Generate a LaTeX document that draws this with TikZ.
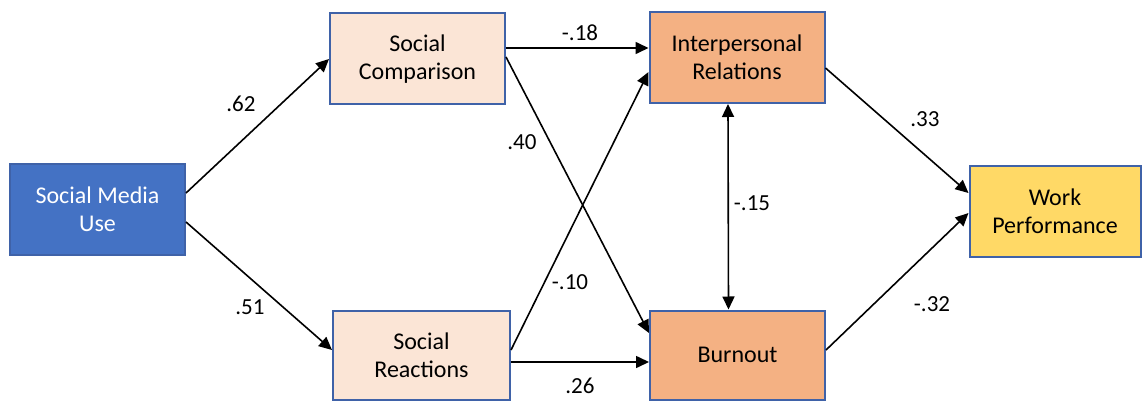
\documentclass[tikz,border=0pt]{standalone}
\usepackage{fontspec}
\setmainfont{Carlito}
\usetikzlibrary{arrows.meta}
\definecolor{boxborder}{HTML}{3F62A8}
\definecolor{blueFill}{HTML}{4472C4}
\definecolor{peachFill}{HTML}{FBE5D6}
\definecolor{orangeFill}{HTML}{F4B183}
\definecolor{yellowFill}{HTML}{FFD966}
\begin{document}
\begin{tikzpicture}[x=1pt,y=-1pt,
  varbox/.style={draw=boxborder, line width=2pt, minimum width=175pt, minimum height=91pt,
    align=center, inner sep=2pt, font=\fontsize{24}{28}\selectfont},
  path/.style={line width=1.6pt, -{Triangle[length=13pt,width=12pt]}},
  twoway/.style={line width=1.6pt, {Triangle[length=13pt,width=12pt]}-{Triangle[length=13pt,width=12pt]}},
  coef/.style={font=\fontsize{23}{26}\selectfont, inner sep=1pt}]
\useasboundingbox (0,0) rectangle (1143,401);

% variables
\node[varbox, fill=blueFill, text=white] (smu) at (97.5,209) {Social Media\\Use};
\node[varbox, fill=peachFill] (sc) at (417.5,59) {Social\\Comparison};
\node[varbox, fill=peachFill, minimum width=177pt, minimum height=89pt] (sr) at (421.5,355) {Social\\Reactions};
\node[varbox, fill=orangeFill] (ir) at (737,57.5) {Interpersonal\\Relations};
\node[varbox, fill=orangeFill, minimum height=89pt] (bo) at (737.5,355) {Burnout};
\node[varbox, fill=yellowFill, minimum width=171pt] (wp) at (1055,211) {Work\\Performance};

% structural paths
\draw[path] ([yshift=16pt]smu.east) -- (sc.west);
\draw[path] ([yshift=-13pt]smu.east) -- ([yshift=5pt]sr.west);
\draw[path] ([yshift=11pt]sc.east) -- ([yshift=9.5pt]ir.west);
\draw[path] ([yshift=2pt]sc.east) -- ([yshift=22pt]bo.west);
\draw[path] ([yshift=5pt]sr.east) -- ([yshift=-14.5pt]ir.west);
\draw[path] ([yshift=-7pt]sr.east) -- ([yshift=-7pt]bo.west);
\draw[twoway] ([xshift=-9pt]ir.south) -- ([xshift=-9pt]bo.north);
\draw[path] ([yshift=-10.5pt]ir.east) -- ([yshift=18pt]wp.west);
\draw[path] ([yshift=5pt]bo.east) -- ([yshift=-2pt]wp.west);

% path coefficients
\node[coef] (c1) at (241,104) {.62};
\node[coef] (c2) at (250,307) {.51};
\node[coef] (c3) at (580,33) {-.18};
\node[coef] (c4) at (522,142) {.40};
\node[coef] (c5) at (570,282) {-.10};
\node[coef] (c6) at (580,386) {.26};
\node[coef] (c7) at (752,203) {-.15};
\node[coef] (c8) at (925,119) {.33};
\node[coef] (c9) at (932,304) {-.32};
\end{tikzpicture}
\end{document}
